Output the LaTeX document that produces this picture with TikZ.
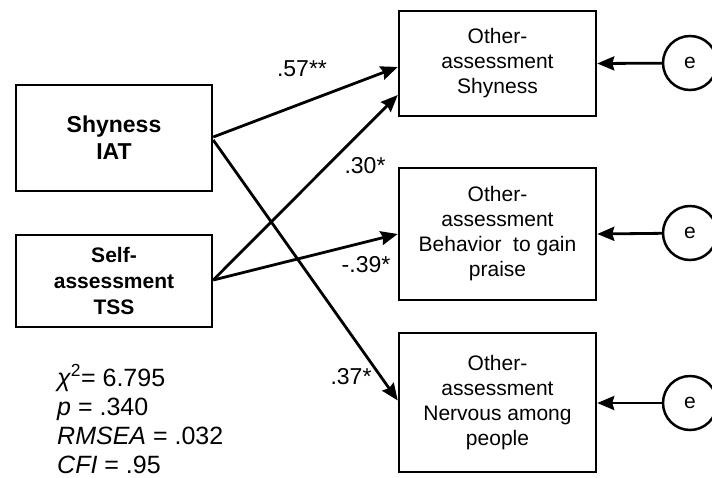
\documentclass[tikz,border=0pt]{standalone}
\usepackage{fontspec}
\setmainfont{Liberation Sans}
\usetikzlibrary{arrows.meta,calc}
\begin{document}
\begin{tikzpicture}[x=1pt,y=-1pt,
  box/.style={draw,line width=2.5pt,align=center,inner sep=0pt,minimum width=196pt,
    font=\fontsize{21}{25}\selectfont},
  bbox/.style={box,font=\fontsize{21}{26}\selectfont\bfseries},
  err/.style={draw,circle,line width=2.5pt,minimum size=54pt,inner sep=0pt,font=\fontsize{21}{25}\selectfont},
  path/.style={line width=2.8pt,-{Stealth[length=17pt,width=14pt,inset=2pt]}},
  coef/.style={font=\fontsize{23}{25}\selectfont,inner sep=0pt},
  stat/.style={font=\fontsize{25}{29}\selectfont,inner sep=0pt,anchor=base west}]
\clip (0,0) rectangle (712,477);
\fill[white] (0,0) rectangle (712,477);
\node[bbox,minimum height=106pt,font=\fontsize{23}{27}\selectfont\bfseries] (iat) at (114,138) {Shyness\\IAT};
\node[bbox,minimum height=92pt] (tss) at (114,281) {Self-\\assessment\\TSS};
\node[box,minimum width=197pt,minimum height=105pt] (o1) at (497.5,63.5) {Other-\\assessment\\Shyness};
\node[box,minimum width=197pt,minimum height=132pt] (o2) at (497.5,234) {Other-\\assessment\\Behavior\ \ to gain\\praise};
\node[box,minimum width=197pt,minimum height=139pt] (o3) at (497.5,402.5) {Other-\\assessment\\Nervous among\\people};
\node[err] (e1) at (690,63) {e};
\node[err] (e2) at (690,233) {e};
\node[err] (e3) at (690,403) {e};
\draw[path] (e1) -- (o1.east);
\draw[path] (e2) -- (o2.east);
\draw[path] (e3) -- (o3.east |- e3);
\draw[path] ($(iat.east)+(0,-1)$) -- ($(o1.west)+(0,3.5)$);
\draw[path] ($(iat.east)+(0,2)$) -- ($(o3.west)+(0,-2)$);
\draw[path] ($(tss.east)+(0,-1)$) -- ($(o1.west)+(0,31.5)$);
\draw[path] ($(tss.east)+(0,-1)$) -- (o2.west);
\node[coef] (c1) at (302,69) {.57**};
\node[coef] (c2) at (365,166) {.30*};
\node[coef] (c3) at (366,265) {-.39*};
\node[coef] (c4) at (351,377) {.37*};
\node[stat] (s1) at (57,386) {\itshape χ\upshape\textsuperscript{2}= 6.795};
\node[stat] (s2) at (57,415) {\itshape p\upshape\ = .340};
\node[stat] (s3) at (57,444) {\itshape RMSEA\upshape\ = .032};
\node[stat] (s4) at (57,473) {\itshape CFI\upshape\ = .95};
\end{tikzpicture}
\end{document}
